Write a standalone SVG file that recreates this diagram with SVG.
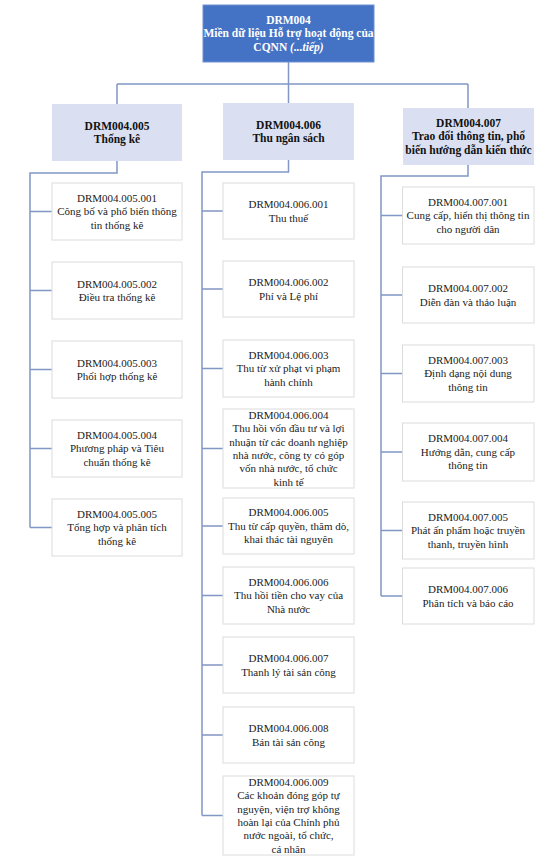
<svg xmlns="http://www.w3.org/2000/svg" width="552" height="864" viewBox="0 0 552 864">
<style>
  text { font-family: "Liberation Serif", "Times New Roman", serif; text-anchor: middle; }
  .root rect { fill: #4472C4; stroke: #6F8FD0; stroke-width: 1; }
  .root text { fill: #FFFFFF; font-weight: bold; font-size: 11.5px; }
  .l2 rect { fill: #DAE0F1; stroke: none; }
  .l2 text { fill: #111111; font-weight: bold; font-size: 11.5px; }
  .l3 rect { fill: #FFFFFF; stroke: #DCDCDC; stroke-width: 1; }
  .l3 text { fill: #222222; font-size: 11px; }
  .conn path { fill: none; stroke: #8197C4; stroke-width: 1.5; }
</style>
<rect x="0" y="0" width="552" height="864" fill="#FFFFFF"/>

<g id="connectors" class="conn">
  <path d="M288.5,62 V84 M117,84 H468 M117,84 V104 M288.5,84 V103 M468,84 V108"/>
  <path d="M117,161 V173 H30 V527.5 M30,211.5 H52 M30,290.5 H52 M30,369.5 H52 M30,448.5 H52 M30,527.5 H52"/>
  <path d="M288.5,160 V172 H202 V815.5 M202,211 H223 M202,289 H223 M202,368.5 H223 M202,448.5 H223 M202,526 H223 M202,595.5 H223 M202,665 H223 M202,735 H223 M202,815.5 H223"/>
  <path d="M468,165 V176 H381 V596 M381,215.5 H402.5 M381,295 H402.5 M381,373.5 H402.5 M381,452 H402.5 M381,530.5 H402.5 M381,596 H402.5"/>
</g>

<g id="DRM004" class="root">
  <rect x="203" y="5" width="171" height="57"/>
  <text x="288.5" y="23.9">DRM004<tspan x="288.5" dy="13.4">Miền dữ liệu Hỗ trợ hoạt động của</tspan><tspan x="288.5" dy="13.4">CQNN <tspan font-style="italic">(...tiếp)</tspan></tspan></text>
</g>

<g id="DRM004.005" class="l2">
  <rect x="52" y="104" width="130" height="57"/>
  <text x="117" y="129.6">DRM004.005<tspan x="117" dy="13.4">Thống kê</tspan></text>
</g>
<g id="DRM004.006" class="l2">
  <rect x="223" y="103" width="131" height="57"/>
  <text x="288.5" y="128.6">DRM004.006<tspan x="288.5" dy="13.4">Thu ngân sách</tspan></text>
</g>
<g id="DRM004.007" class="l2">
  <rect x="403" y="108" width="131" height="57"/>
  <text x="468.5" y="126.9">DRM004.007<tspan x="468.5" dy="13.4">Trao đổi thông tin, phổ</tspan><tspan x="468.5" dy="13.4">biến hướng dẫn kiến thức</tspan></text>
</g>

<!-- Left column -->
<g id="DRM004.005.001" class="l3">
  <rect x="52" y="183" width="130" height="57"/>
  <text x="117" y="201.9">DRM004.005.001<tspan x="117" dy="13.4">Công bố và phổ biến thông</tspan><tspan x="117" dy="13.4">tin thống kê</tspan></text>
</g>
<g id="DRM004.005.002" class="l3">
  <rect x="52" y="262" width="130" height="57"/>
  <text x="117" y="287.6">DRM004.005.002<tspan x="117" dy="13.4">Điều tra thống kê</tspan></text>
</g>
<g id="DRM004.005.003" class="l3">
  <rect x="52" y="341" width="130" height="57"/>
  <text x="117" y="366.6">DRM004.005.003<tspan x="117" dy="13.4">Phối hợp thống kê</tspan></text>
</g>
<g id="DRM004.005.004" class="l3">
  <rect x="52" y="420" width="130" height="57"/>
  <text x="117" y="438.9">DRM004.005.004<tspan x="117" dy="13.4">Phương pháp và Tiêu</tspan><tspan x="117" dy="13.4">chuẩn thống kê</tspan></text>
</g>
<g id="DRM004.005.005" class="l3">
  <rect x="52" y="499" width="130" height="57"/>
  <text x="117" y="517.9">DRM004.005.005<tspan x="117" dy="13.4">Tổng hợp và phân tích</tspan><tspan x="117" dy="13.4">thống kê</tspan></text>
</g>

<!-- Middle column -->
<g id="DRM004.006.001" class="l3">
  <rect x="223" y="183" width="131" height="56"/>
  <text x="288.5" y="208.1">DRM004.006.001<tspan x="288.5" dy="13.4">Thu thuế</tspan></text>
</g>
<g id="DRM004.006.002" class="l3">
  <rect x="223" y="261" width="131" height="56"/>
  <text x="288.5" y="286.1">DRM004.006.002<tspan x="288.5" dy="13.4">Phí và Lệ phí</tspan></text>
</g>
<g id="DRM004.006.003" class="l3">
  <rect x="223" y="340" width="131" height="57"/>
  <text x="288.5" y="358.9">DRM004.006.003<tspan x="288.5" dy="13.4">Thu từ xử phạt vi phạm</tspan><tspan x="288.5" dy="13.4">hành chính</tspan></text>
</g>
<g id="DRM004.006.004" class="l3">
  <rect x="223" y="409" width="131" height="79"/>
  <text x="288.5" y="418.8">DRM004.006.004<tspan x="288.5" dy="13.4">Thu hồi vốn đầu tư và lợi</tspan><tspan x="288.5" dy="13.4">nhuận từ các doanh nghiệp</tspan><tspan x="288.5" dy="13.4">nhà nước, công ty có góp</tspan><tspan x="288.5" dy="13.4">vốn nhà nước, tổ chức</tspan><tspan x="288.5" dy="13.4">kinh tế</tspan></text>
</g>
<g id="DRM004.006.005" class="l3">
  <rect x="223" y="498" width="131" height="56"/>
  <text x="288.5" y="516.4">DRM004.006.005<tspan x="288.5" dy="13.4">Thu từ cấp quyền, thăm dò,</tspan><tspan x="288.5" dy="13.4">khai thác tài nguyên</tspan></text>
</g>
<g id="DRM004.006.006" class="l3">
  <rect x="223" y="567" width="131" height="57"/>
  <text x="288.5" y="585.9">DRM004.006.006<tspan x="288.5" dy="13.4">Thu hồi tiền cho vay của</tspan><tspan x="288.5" dy="13.4">Nhà nước</tspan></text>
</g>
<g id="DRM004.006.007" class="l3">
  <rect x="223" y="637" width="131" height="56"/>
  <text x="288.5" y="662.1">DRM004.006.007<tspan x="288.5" dy="13.4">Thanh lý tài sản công</tspan></text>
</g>
<g id="DRM004.006.008" class="l3">
  <rect x="223" y="707" width="131" height="56"/>
  <text x="288.5" y="732.1">DRM004.006.008<tspan x="288.5" dy="13.4">Bán tài sản công</tspan></text>
</g>
<g id="DRM004.006.009" class="l3">
  <rect x="223" y="776" width="131" height="79"/>
  <text x="288.5" y="785.8">DRM004.006.009<tspan x="288.5" dy="13.4">Các khoản đóng góp tự</tspan><tspan x="288.5" dy="13.4">nguyện, viện trợ không</tspan><tspan x="288.5" dy="13.4">hoàn lại của Chính phủ</tspan><tspan x="288.5" dy="13.4">nước ngoài, tổ chức,</tspan><tspan x="288.5" dy="13.4">cá nhân</tspan></text>
</g>

<!-- Right column -->
<g id="DRM004.007.001" class="l3">
  <rect x="402.5" y="187" width="131.5" height="57"/>
  <text x="468" y="205.9">DRM004.007.001<tspan x="468" dy="13.4">Cung cấp, hiển thị thông tin</tspan><tspan x="468" dy="13.4">cho người dân</tspan></text>
</g>
<g id="DRM004.007.002" class="l3">
  <rect x="402.5" y="267" width="131.5" height="56"/>
  <text x="468" y="292.1">DRM004.007.002<tspan x="468" dy="13.4">Diễn đàn và thảo luận</tspan></text>
</g>
<g id="DRM004.007.003" class="l3">
  <rect x="402.5" y="345" width="131.5" height="57"/>
  <text x="468" y="363.9">DRM004.007.003<tspan x="468" dy="13.4">Định dạng nội dung</tspan><tspan x="468" dy="13.4">thông tin</tspan></text>
</g>
<g id="DRM004.007.004" class="l3">
  <rect x="402.5" y="423" width="131.5" height="58"/>
  <text x="468" y="442.4">DRM004.007.004<tspan x="468" dy="13.4">Hướng dẫn, cung cấp</tspan><tspan x="468" dy="13.4">thông tin</tspan></text>
</g>
<g id="DRM004.007.005" class="l3">
  <rect x="402.5" y="502" width="131.5" height="57"/>
  <text x="468" y="520.9">DRM004.007.005<tspan x="468" dy="13.4">Phát ấn phẩm hoặc truyền</tspan><tspan x="468" dy="13.4">thanh, truyền hình</tspan></text>
</g>
<g id="DRM004.007.006" class="l3">
  <rect x="402.5" y="568" width="131.5" height="56"/>
  <text x="468" y="593.1">DRM004.007.006<tspan x="468" dy="13.4">Phân tích và báo cáo</tspan></text>
</g>
</svg>
